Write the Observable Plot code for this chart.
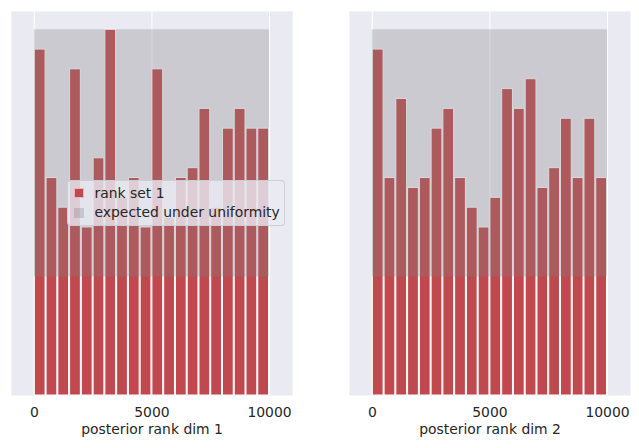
<!DOCTYPE html>
<html>
<head>
<meta charset="utf-8">
<script src="https://cdn.jsdelivr.net/npm/d3@7"></script>
<script src="https://cdn.jsdelivr.net/npm/@observablehq/plot@0.6"></script>
<style>
  html, body { margin: 0; padding: 0; background: #ffffff; }
  #fig { position: relative; width: 639px; height: 448px; overflow: hidden; font-family: "DejaVu Sans", sans-serif; color: #262626; }
  .panel { position: absolute; top: 0; }
  .legend { position: absolute; left: 66.5px; top: 179.5px; width: 218px; height: 46px; box-sizing: border-box;
            border: 1px solid rgba(204,204,210,0.9); border-radius: 4px; background: rgba(234,234,242,0.8); }
  .legend .patch { position: absolute; left: 6px; width: 10px; height: 10px; box-sizing: border-box; }
  .legend .lab { position: absolute; left: 27px; font-size: 13.9px; line-height: 13.9px; white-space: nowrap; color: #262626; }
</style>
</head>
<body>
<div id="fig"></div>
<script>
// ---- data ----
const binEdges = [0, 500, 1000, 1500, 2000, 2500, 3000, 3500, 4000, 4500, 5000,
                  5500, 6000, 6500, 7000, 7500, 8000, 8500, 9000, 9500, 10000];
const countsDim1 = [35, 22, 19, 33, 17, 24, 37, 20, 22, 17, 33, 18, 22, 23, 29, 19, 27, 29, 27, 27];
const countsDim2 = [35, 22, 30, 21, 22, 27, 29, 22, 19, 17, 20, 31, 29, 32, 21, 23, 28, 22, 28, 22];
const bandLow = 12;
const bandHigh = 37;
const rankMax = 10000;
const xTicks = [0, 5000, 10000];
const xLabels = ["posterior rank dim 1", "posterior rank dim 2"];
const legendLabels = ["rank set 1", "expected under uniformity"];

const barColor = "#C0494F";
const bg = "#EAEAF2";

function panel(counts, label, opts) {
  const rows = counts.map((c, i) => ({x1: binEdges[i], x2: binEdges[i + 1], y: c}));
  return Plot.plot({
    width: opts.width,
    height: 448,
    marginLeft: opts.ml,
    marginRight: opts.mr,
    marginTop: 11,
    marginBottom: 53,
    style: {fontFamily: "DejaVu Sans, sans-serif", fontSize: "13.9px", color: "#262626", background: "transparent", overflow: "visible"},
    x: {domain: [-970, 10977]},
    y: {domain: [0, 38.85], axis: null},
    marks: [
      Plot.frame({fill: bg, stroke: null}),
      Plot.ruleX(xTicks, {stroke: "white", strokeWidth: 1.1}),
      Plot.rectY(rows, {x1: "x1", x2: "x2", y: "y", fill: barColor, stroke: "white", strokeWidth: 1, insetLeft: 0.5, insetRight: 0.5}),
      Plot.rect([{a: 0, b: rankMax, lo: bandLow, hi: bandHigh}], {x1: "a", x2: "b", y1: "lo", y2: "hi", fill: "grey", fillOpacity: 0.3}),
      Plot.axisX(xTicks, {tickSize: 0, tickPadding: 12, tickFormat: d3.format("d"), fontSize: "13.9px", fill: "#262626", label: null}),
      Plot.text([label], {frameAnchor: "bottom", dy: 28.4, lineAnchor: "top", fontSize: "13.9px", fill: "#262626"})
    ]
  });
}

const fig = document.getElementById("fig");

const p1 = panel(countsDim1, xLabels[0], {width: 320, ml: 11, mr: 28});
const d1 = document.createElement("div"); d1.className = "panel"; d1.style.left = "0px"; d1.appendChild(p1); fig.appendChild(d1);

const p2 = panel(countsDim2, xLabels[1], {width: 319, ml: 29, mr: 9});
const d2 = document.createElement("div"); d2.className = "panel"; d2.style.left = "320px"; d2.appendChild(p2); fig.appendChild(d2);

// legend (drawn over the first panel)
const leg = document.createElement("div"); leg.className = "legend";
const patchColors = [barColor, "rgba(128,128,128,0.3)"];
const patchTops = [7, 27];
const labTops = [6, 25.5];
legendLabels.forEach((t, i) => {
  const p = document.createElement("div"); p.className = "patch";
  p.style.top = patchTops[i] + "px"; p.style.background = patchColors[i];
  if (i === 0) p.style.border = "1px solid rgba(255,255,255,0.6)";
  leg.appendChild(p);
  const l = document.createElement("div"); l.className = "lab";
  l.style.top = labTops[i] + "px"; l.textContent = t;
  leg.appendChild(l);
});
fig.appendChild(leg);
</script>
</body>
</html>
